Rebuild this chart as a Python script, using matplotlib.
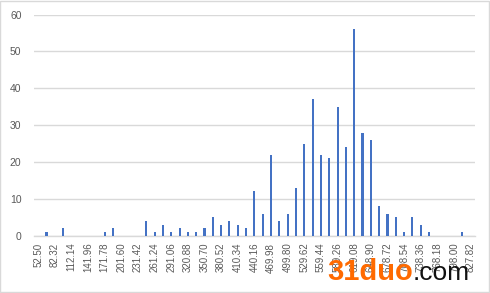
import matplotlib
matplotlib.use("Agg")
import matplotlib.pyplot as plt
from matplotlib.patches import Rectangle

start = 52.50
step = 14.91
counts = [0, 1, 0, 2, 0, 0, 0, 0, 1, 2,
          0, 0, 0, 4, 1, 3, 1, 2, 1, 1,
          2, 5, 3, 4, 3, 2, 12, 6, 22, 4,
          6, 13, 25, 37, 22, 21, 35, 24, 56, 28,
          26, 8, 6, 5, 1, 5, 3, 1, 0, 0,
          0, 1, 0]
categories = ["%.2f" % (start + step * i) for i in range(len(counts))]
yticks = [0, 10, 20, 30, 40, 50, 60]

plt.rcParams['font.family'] = ['Liberation Sans', 'DejaVu Sans']
fig = plt.figure(figsize=(4.9, 2.93), dpi=100)
fig.patch.set_facecolor('white')
ax = fig.add_axes([0.0694, 0.1956, 0.8996, 0.7544])

x = list(range(len(counts)))
ax.bar(x, counts, width=0.25, color='#4472C4', zorder=3)
ax.set_xlim(-0.5, len(counts) - 0.5)
ax.set_ylim(0, 60)
ax.set_yticks(yticks)
ax.set_yticklabels([str(v) for v in yticks], fontsize=7.5, color='#595959')
ax.set_xticks(x[::2])
ax.set_xticklabels(categories[::2], rotation=90, fontsize=7, color='#595959')
ax.tick_params(length=0, pad=5)
ax.tick_params(axis='y', pad=9)
ax.grid(axis='y', color='#d9d9d9', linewidth=1, zorder=0)
for s in ['top', 'right', 'left']:
    ax.spines[s].set_visible(False)
ax.spines['bottom'].set_color('#d9d9d9')
ax.spines['bottom'].set_linewidth(1)

fig.patches.append(Rectangle((0.001, 0.002), 0.997, 0.995, transform=fig.transFigure,
                             fill=False, edgecolor='#d9d9d9', linewidth=1))

fig.text(0.668, 0.045, "31duo", fontsize=21, fontweight='bold', color='#FF6A00',
         ha='left', va='baseline')
fig.text(0.842, 0.045, ".com", fontsize=19, color='#111111', ha='left', va='baseline')

fig.savefig('out.png', dpi=100)
